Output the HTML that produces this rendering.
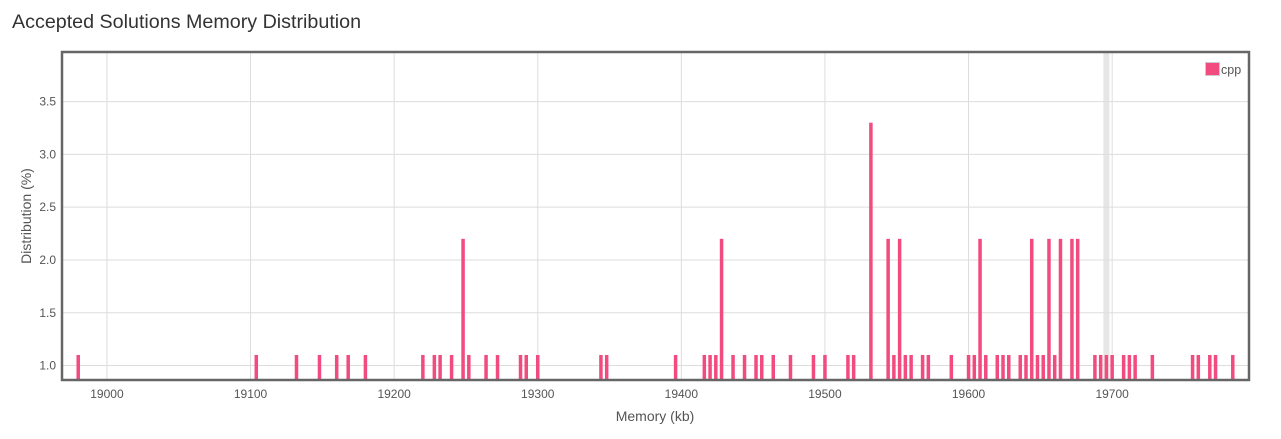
<!DOCTYPE html>
<html><head><meta charset="utf-8"><style>
body{margin:0;background:#fff;}
svg{display:block;font-family:"Liberation Sans",Arial,sans-serif;}
</style></head><body>
<svg id="chart" width="1281" height="439">
<text x="12" y="28" font-size="19.7" fill="#333">Accepted Solutions Memory Distribution</text>
<g id="grid"></g>
<g id="bars"></g>
<rect x="62" y="52" width="1187" height="328" fill="none" stroke="#666" stroke-width="2.5"/>
<g id="xticks"></g>
<g id="yticks"></g>
<text x="655" y="421" font-size="14" fill="#555" text-anchor="middle">Memory (kb)</text>
<text transform="translate(31,216) rotate(-90)" font-size="14" fill="#555" text-anchor="middle">Distribution (%)</text>
<g>
<rect x="1205.5" y="62.5" width="14" height="13" fill="#f24b7f" stroke="#ccc" stroke-width="1"/>
<text x="1221" y="74" font-size="12.5" fill="#555">cpp</text>
</g>
</svg>
<script>
const memValues=[18980,19104,19132,19148,19160,19168,19180,19220,19228,19232,19240,19248,19252,19264,19272,19288,19292,19300,19344,19348,19396,19416,19420,19424,19428,19436,19444,19452,19456,19464,19476,19492,19500,19516,19520,19532,19544,19548,19552,19556,19560,19568,19572,19588,19600,19604,19608,19612,19620,19624,19628,19636,19640,19644,19648,19652,19656,19660,19664,19672,19676,19688,19692,19696,19700,19708,19712,19716,19728,19756,19760,19768,19772,19784];
const distValues=[1.1,1.1,1.1,1.1,1.1,1.1,1.1,1.1,1.1,1.1,1.1,2.2,1.1,1.1,1.1,1.1,1.1,1.1,1.1,1.1,1.1,1.1,1.1,1.1,2.2,1.1,1.1,1.1,1.1,1.1,1.1,1.1,1.1,1.1,1.1,3.3,2.2,1.1,2.2,1.1,1.1,1.1,1.1,1.1,1.1,1.1,2.2,1.1,1.1,1.1,1.1,1.1,1.1,2.2,1.1,1.1,2.2,1.1,2.2,2.2,2.2,1.1,1.1,1.1,1.1,1.1,1.1,1.1,1.1,1.1,1.1,1.1,1.1,1.1];
const xTicks=[19000,19100,19200,19300,19400,19500,19600,19700];
const yTicks=[1.0,1.5,2.0,2.5,3.0,3.5];
const highlightValue=19696;
const NS="http://www.w3.org/2000/svg";
const X0=63,X1=1248,Y0=52,Y1=380;
const xMin=18969.4,xMax=19794.6,yMin=0.863,yMax=3.97;
function xs(v){return X0+(v-xMin)/(xMax-xMin)*(X1-X0);}
function ys(v){return Y1-(v-yMin)/(yMax-yMin)*(Y1-Y0);}
function mk(t,a){const e=document.createElementNS(NS,t);for(const k in a)e.setAttribute(k,a[k]);return e;}
const grid=document.getElementById('grid'),bars=document.getElementById('bars'),xt=document.getElementById('xticks'),yt=document.getElementById('yticks');
const hb=mk('rect',{x:xs(highlightValue)-3,y:Y0,width:6,height:Y1-Y0,fill:'#e6e6e6'});


grid.appendChild(hb);
xTicks.forEach(v=>{
 const l=mk('line',{x1:xs(v),x2:xs(v),y1:Y0,y2:Y1,stroke:'#ddd','stroke-width':1});
 
 
 grid.appendChild(l);
 const t=mk('text',{x:xs(v),y:398,'font-size':12,fill:'#555','text-anchor':'middle'});
 
 
 t.textContent=v;xt.appendChild(t);
});
yTicks.forEach(v=>{
 const l=mk('line',{x1:X0,x2:X1,y1:ys(v),y2:ys(v),stroke:'#ddd','stroke-width':1});
 
 
 grid.appendChild(l);
 const t=mk('text',{x:56,y:ys(v)+4,'font-size':12,fill:'#555','text-anchor':'end'});
 
 
 t.textContent=v.toFixed(1);yt.appendChild(t);
});
memValues.forEach((m,i)=>{
 const y=ys(distValues[i]);
 const r=mk('rect',{x:xs(m)-1.75,y:y,width:3.5,height:Y1-y,fill:'#f24b7f'});
 
 
 bars.appendChild(r);
});
</script>
</body></html>
